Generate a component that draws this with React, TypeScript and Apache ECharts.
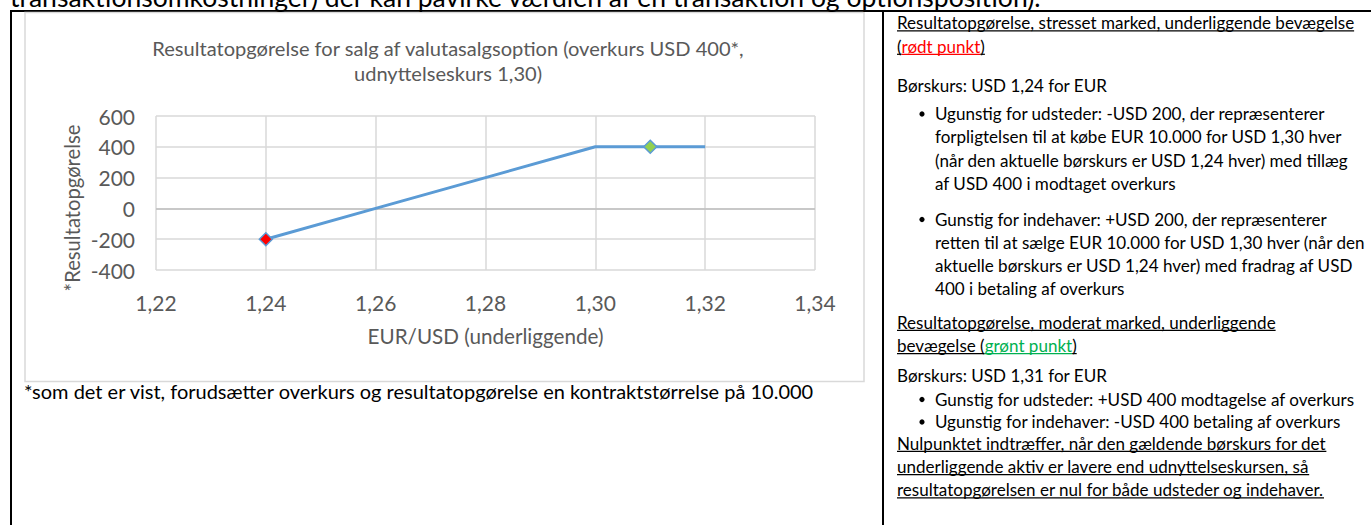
import React, { useEffect, useRef } from "react";
import * as echarts from "echarts";

// ---- chart data ----
const xMin = 1.22;
const xMax = 1.34;
const xStep = 0.02;
const yMin = -400;
const yMax = 600;
const yStep = 200;
const underlying = [1.24, 1.26, 1.28, 1.3, 1.31, 1.32];
const profitLoss = [-200, 0, 200, 400, 400, 400];
const redPointX = 1.24; // stresset marked
const greenPointX = 1.31; // moderat marked

// ---- texts ----
const topText = "transaktionsomkostninger) der kan påvirke værdien af en transaktion og optionsposition).";
const titleLines = ["Resultatopgørelse for salg af valutasalgsoption (overkurs USD 400*,", "udnyttelseskurs 1,30)"];
const yName = "*Resultatopgørelse";
const xName = "EUR/USD (underliggende)";
const footnote = "*som det er vist, forudsætter overkurs og resultatopgørelse en kontraktstørrelse på 10.000";
const heading1 = "Resultatopgørelse, stresset marked, underliggende bevægelse";
const heading1b = ["(", "rødt punkt", ")"];
const price1 = "Børskurs: USD 1,24 for EUR";
const bullet1 = [
  "Ugunstig for udsteder: -USD 200, der repræsenterer",
  "forpligtelsen til at købe EUR 10.000 for USD 1,30 hver",
  "(når den aktuelle børskurs er USD 1,24 hver) med tillæg",
  "af USD 400 i modtaget overkurs",
];
const bullet2 = [
  "Gunstig for indehaver: +USD 200, der repræsenterer",
  "retten til at sælge EUR 10.000 for USD 1,30 hver (når den",
  "aktuelle børskurs er USD 1,24 hver) med fradrag af USD",
  "400 i betaling af overkurs",
];
const heading2 = "Resultatopgørelse, moderat marked, underliggende";
const heading2b = ["bevægelse (", "grønt punkt", ")"];
const price2 = "Børskurs: USD 1,31 for EUR";
const bullet3 = ["Gunstig for udsteder: +USD 400 modtagelse af overkurs"];
const bullet4 = ["Ugunstig for indehaver: -USD 400 betaling af overkurs"];
const zeroNote = [
  "Nulpunktet indtræffer, når den gældende børskurs for det",
  "underliggende aktiv er lavere end udnyttelseskursen, så",
  "resultatopgørelsen er nul for både udsteder og indehaver.",
];

const FAMILY = "Lato";
const GRAY = "#595959";
const GRID = "#d9d9d9";

export default function App() {
  const ref = useRef<HTMLDivElement>(null);
  useEffect(() => {
    const el = ref.current!;
    const chart = echarts.init(el, null, { renderer: "svg" });
    const ctx = document.createElement("canvas").getContext("2d")!;
    const measure = (t: string, size: number) => {
      ctx.font = `${size}px ${FAMILY}`;
      return ctx.measureText(t).width;
    };
    const fit = (t: string, target: number) => (20 * target) / measure(t, 20);

    const sTop = fit(topText, 1033);
    const sBodyAvg = (fit(heading1, 470) + fit(bullet2[1], 432) + fit(bullet1[1], 405) + fit(price1, 205)) / 4;
    const sBody = Math.min(sBodyAvg, fit(bullet2[1], 433), fit(heading1, 472));
    const sFoot = fit(footnote, 791);
    const sTitle = fit(titleLines[0], 593);
    const sXName = fit(xName, 236);
    const sYName = fit(yName, 167);

    const g: any[] = [];
    const txt = (text: string, x: number, y: number, size: number, fill: string, align = "left", extra: any = {}) => {
      g.push({
        type: "text",
        x,
        y,
        silent: true,
        ...extra,
        style: { text, fontSize: size, fontFamily: FAMILY, fill, align, textAlign: align, verticalAlign: "middle", textVerticalAlign: "middle" },
      });
    };
    const uline = (x1: number, x2: number, y: number, color: string) => {
      g.push({ type: "line", silent: true, shape: { x1, y1: y, x2, y2: y }, style: { stroke: color, lineWidth: 1.2 } });
    };

    // page borders
    g.push({ type: "line", silent: true, shape: { x1: 10, y1: 11, x2: 1371, y2: 11 }, style: { stroke: "#000", lineWidth: 2 } });
    g.push({ type: "line", silent: true, shape: { x1: 11, y1: 10, x2: 11, y2: 525 }, style: { stroke: "#000", lineWidth: 2 } });
    g.push({ type: "line", silent: true, shape: { x1: 883, y1: 10, x2: 883, y2: 525 }, style: { stroke: "#000", lineWidth: 2 } });
    // chart frame
    g.push({ type: "rect", silent: true, shape: { x: 25, y: 12.5, width: 839, height: 369 }, style: { fill: "none", stroke: GRID, lineWidth: 1.5 } });

    // top cut-off sentence (cut at the top edge, as in the source page)
    txt(topText, 10, -3, sTop, "#000");

    // chart title & axis name
    txt(titleLines[0], 448, 48, sTitle, GRAY, "center");
    txt(titleLines[1], 448, 73, sTitle, GRAY, "center");
    txt(yName, 72, 208, sYName, GRAY, "center", { rotation: Math.PI / 2 });
    txt(footnote, 24, 391, sFoot, "#000");

    // right column
    const L = 897;
    const B = 935;
    const LH = 23.3;
    const ulOff = 8.3;
    txt(heading1, L, 22.5, sBody, "#000");
    uline(L, L + measure(heading1, sBody), 22.5 + ulOff, "#000");
    {
      let x = L;
      const cols = ["#000", "#ff0000", "#000"];
      heading1b.forEach((p, i) => {
        const w = measure(p, sBody);
        txt(p, x, 46, sBody, cols[i]);
        uline(x, x + w, 46 + ulOff, cols[i]);
        x += w;
      });
    }
    txt(price1, L, 85, sBody, "#000");
    const bullets = (lines: string[], y0: number) => {
      g.push({ type: "circle", silent: true, shape: { cx: 922, cy: y0 + 0.5, r: 2.6 }, style: { fill: "#000" } });
      lines.forEach((l, i) => txt(l, B, y0 + i * LH, sBody, "#000"));
    };
    bullets(bullet1, 113.5);
    bullets(bullet2, 219);
    txt(heading2, L, 322, sBody, "#000");
    uline(L, L + measure(heading2, sBody), 322 + ulOff, "#000");
    {
      let x = L;
      const cols = ["#000", "#00b050", "#000"];
      heading2b.forEach((p, i) => {
        const w = measure(p, sBody);
        txt(p, x, 345.3, sBody, cols[i]);
        uline(x, x + w, 345.3 + ulOff, cols[i]);
        x += w;
      });
    }
    txt(price2, L, 375.5, sBody, "#000");
    bullets(bullet3, 399);
    bullets(bullet4, 421.5);
    zeroNote.forEach((l, i) => {
      const y = 443 + i * LH;
      txt(l, L, y, sBody, "#000");
      uline(L, L + measure(l, sBody), y + ulOff, "#000");
    });

    const markerStyle = (color: string) => ({
      symbol: "diamond",
      symbolSize: 13,
      itemStyle: { color, borderColor: "#5b9bd5", borderWidth: 1.5 },
    });
    const lineData = underlying.map((x, i) => {
      const item: any = { value: [x, profitLoss[i]], symbol: "none" };
      if (x === redPointX) Object.assign(item, markerStyle("#ff0000"));
      if (x === greenPointX) Object.assign(item, markerStyle("#92d050"));
      return item;
    });

    const fmt = (v: number) => v.toFixed(2).replace(".", ",");

    chart.setOption({
      animation: false,
      grid: { left: 156, right: 1371 - 815, top: 116, bottom: 525 - 270, containLabel: false },
      xAxis: {
        type: "value",
        min: xMin,
        max: xMax,
        interval: xStep,
        name: xName,
        nameLocation: "middle",
        nameGap: 55,
        nameTextStyle: { fontSize: sXName, fontFamily: FAMILY, color: GRAY },
        axisLine: { show: false },
        axisTick: { show: false },
        axisLabel: { fontSize: 21, fontFamily: FAMILY, color: GRAY, margin: 22, formatter: fmt },
        splitLine: { show: true, lineStyle: { color: GRID, width: 1.5 } },
      },
      yAxis: {
        type: "value",
        min: yMin,
        max: yMax,
        interval: yStep,
        axisLine: { show: false },
        axisTick: { show: false },
        axisLabel: { fontSize: 21, fontFamily: FAMILY, color: GRAY, margin: 21 },
        splitLine: { show: true, lineStyle: { color: GRID, width: 1.5 } },
      },
      series: [
        {
          type: "line",
          data: lineData,
          showSymbol: true,
          lineStyle: { color: "#5b9bd5", width: 3 },
          itemStyle: { color: "#5b9bd5" },
          z: 3,
          markLine: {
            silent: true,
            symbol: "none",
            label: { show: false },
            lineStyle: { color: "#bfbfbf", width: 1.5, type: "solid" },
            data: [{ yAxis: 0 }],
            z: 1,
          },
        },
      ],
      graphic: g,
    });
    return () => chart.dispose();
  }, []);
  return <div ref={ref} style={{ position: "absolute", left: 0, top: 0, width: 1371, height: 525 }} />;
}
